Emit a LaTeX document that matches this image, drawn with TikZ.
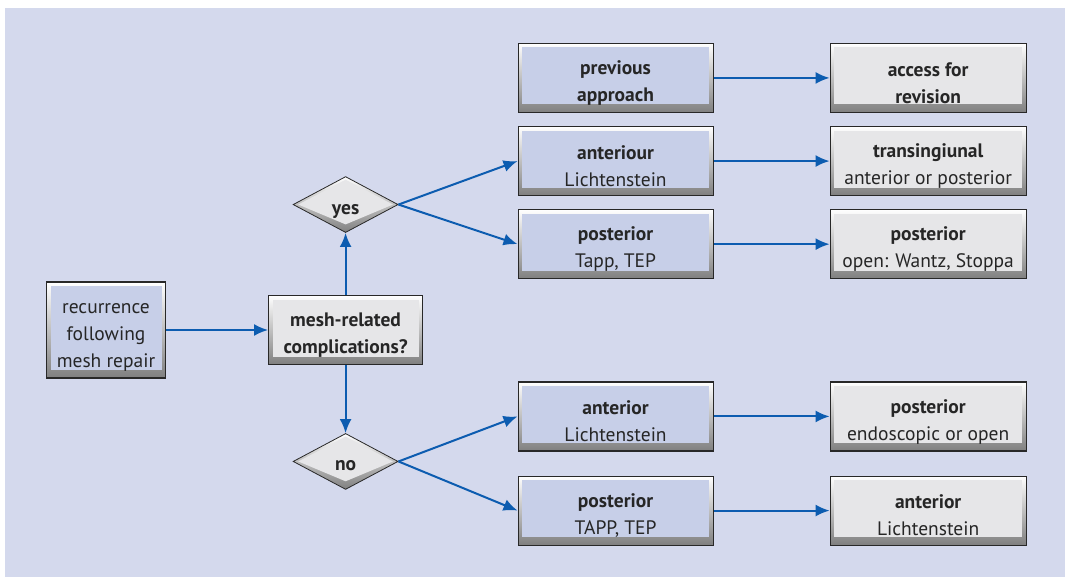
\documentclass[tikz,border=0pt]{standalone}
\usepackage{fontspec}
\setmainfont{PT Sans}
\usetikzlibrary{arrows.meta,positioning,shapes.geometric}
\definecolor{panelbg}{RGB}{212,217,237}
\definecolor{boxblue}{RGB}{199,207,232}
\definecolor{boxgrey}{RGB}{230,230,232}
\definecolor{framedark}{RGB}{40,40,40}
\definecolor{arrowblue}{RGB}{12,92,176}
\newcommand{\topgap}{\rule{0pt}{24pt}}
\tikzset{
 bevelbox/.style={
 rectangle,
 draw=framedark,
 line width=1.1pt,
 top color=white,
 bottom color=black!50,
 path picture={\fill[#1] ([shift={(4pt,-4pt)}]path picture bounding box.north west) rectangle ([shift={(-4pt,8pt)}]path picture bounding box.south east);},
 align=center,
 inner sep=2pt,
 text=black!85,
 font=\fontsize{19.5}{27}\selectfont
 },
 bluebox/.style={
 bevelbox=boxblue,
 minimum width=195pt,
 minimum height=69pt
 },
 greybox/.style={
 bevelbox=boxgrey,
 minimum width=196pt,
 minimum height=69pt
 },
 decision/.style={
 diamond,
 aspect=2,
 draw=framedark,
 line width=0.8pt,
 top color=white,
 bottom color=black!50,
 path picture={\fill[boxgrey] ([xshift=5pt]path picture bounding box.west) -- ([yshift=-3pt]path picture bounding box.north) -- ([xshift=-5pt]path picture bounding box.east) -- ([yshift=8pt]path picture bounding box.south) -- cycle;},
 minimum width=105pt,
 minimum height=56pt,
 inner sep=0pt,
 text height=24pt,
 text depth=5pt,
 text=black!85,
 font=\fontsize{19.5}{27}\selectfont\bfseries
 },
 flowarrow/.style={-{Latex[length=14pt,width=12pt]}, line width=2pt, draw=arrowblue}
}

\begin{document}
\begin{tikzpicture}
 \fill[panelbg] (5pt,-8pt) rectangle (1065pt,-577pt);
 \useasboundingbox (0,0) rectangle (1065pt,-577pt);

 \node[bluebox, minimum width=119pt, minimum height=96pt] (recur) at (106pt,-330pt) {\topgap recurrence\\following\\mesh repair};
 \node[greybox, minimum width=154pt, right=102pt of recur] (mesh) {\topgap\textbf{mesh-related}\\\textbf{complications?}};
 \node[decision, above=62pt of mesh] (yes) {yes};
 \node[decision, below=68pt of mesh] (no) {no};

 \node[bluebox, right=119pt of yes, yshift=43.5pt] (antlich) {\topgap\textbf{anteriour}\\Lichtenstein};
 \node[bluebox, above=13pt of antlich] (prev) {\topgap\textbf{previous}\\\textbf{approach}};
 \node[bluebox, below=13pt of antlich] (posttapp) {\topgap\textbf{posterior}\\Tapp, TEP};
 \node[bluebox, right=119pt of no, yshift=45pt] (antnew) {\topgap\textbf{anterior}\\Lichtenstein};
 \node[bluebox, below=24pt of antnew] (postnew) {\topgap\textbf{posterior}\\TAPP, TEP};

 \node[greybox, right=116pt of prev] (access) {\topgap\textbf{access for}\\\textbf{revision}};
 \node[greybox, right=116pt of antlich] (transing) {\topgap\textbf{transingiunal}\\anterior or posterior};
 \node[greybox, right=116pt of posttapp] (postopen) {\topgap\textbf{posterior}\\open: Wantz, Stoppa};
 \node[greybox, right=116pt of antnew] (postendo) {\topgap\textbf{posterior}\\endoscopic or open};
 \node[greybox, right=116pt of postnew] (antlast) {\topgap\textbf{anterior}\\Lichtenstein};

 \draw[flowarrow] (recur) -- (mesh);
 \draw[flowarrow] (mesh) -- (yes);
 \draw[flowarrow] (mesh) -- (no);
 \draw[flowarrow] (yes.east) -- (antlich.west);
 \draw[flowarrow] (yes.east) -- (posttapp.west);
 \draw[flowarrow] (no.east) -- (antnew.west);
 \draw[flowarrow] (no.east) -- (postnew.west);
 \draw[flowarrow] (prev) -- (access);
 \draw[flowarrow] (antlich) -- (transing);
 \draw[flowarrow] (posttapp) -- (postopen);
 \draw[flowarrow] (antnew) -- (postendo);
 \draw[flowarrow] (postnew) -- (antlast);
\end{tikzpicture}
\end{document}
